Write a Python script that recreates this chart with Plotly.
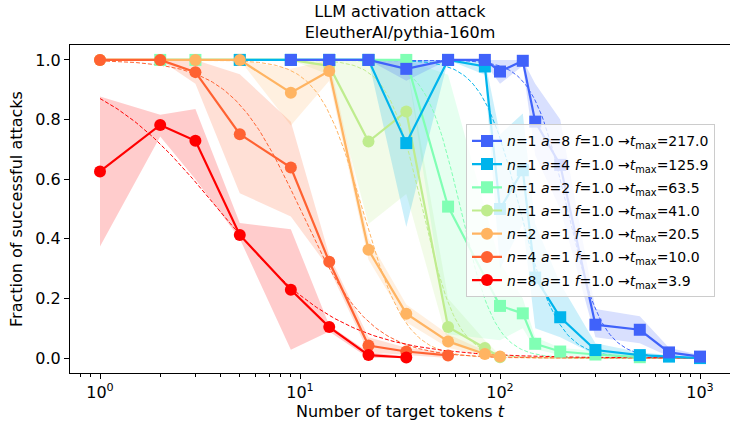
import numpy as np
import plotly.graph_objects as go

# ---------------- data ----------------
# n=1 a=8
T_A8 = [9, 14, 22, 34, 55, 84, 100, 130, 150, 200, 300, 500, 700, 1000]
Y_A8 = [1.0, 1.0, 1.0, 0.970, 1.0, 1.0, 0.961, 0.997, 0.793, 0.648, 0.112, 0.095, 0.019, 0.005]
LO_A8 = [1.0, 1.0, 1.0, 0.93, 1.0, 0.99, 0.92, 0.98, 0.68, 0.50, 0.07, 0.05, 0.005, 0.0]
HI_A8 = [1.0, 1.0, 1.0, 1.0, 1.0, 1.0, 1.0, 1.0, 0.92, 0.80, 0.165, 0.14, 0.035, 0.01]
# n=1 a=4
T_A4 = [5, 9, 14, 22, 34, 55, 84, 100, 130, 150, 200, 300, 500, 700, 1000]
Y_A4 = [1.0, 1.0, 1.0, 1.0, 0.721, 1.0, 0.978, 0.50, 0.63, 0.27, 0.137, 0.027, 0.01, 0.005, 0.0]
LO_A4 = [1.0, 1.0, 1.0, 1.0, 0.44, 1.0, 0.95, 0.30, 0.45, 0.10, 0.07, 0.01, 0.0, 0.0, 0.0]
HI_A4 = [1.0, 1.0, 1.0, 1.0, 1.0, 1.0, 1.0, 0.75, 0.82, 0.45, 0.25, 0.05, 0.02, 0.01, 0.0]
# n=1 a=2
T_A2 = [2, 3, 5, 9, 14, 22, 34, 55, 100, 130, 150, 200, 300, 500]
Y_A2 = [1.0, 1.0, 1.0, 1.0, 1.0, 1.0, 1.0, 0.508, 0.175, 0.15, 0.048, 0.022, 0.012, 0.003]
LO_A2 = [1.0, 1.0, 1.0, 1.0, 1.0, 1.0, 1.0, 0.08, 0.06, 0.10, 0.03, 0.01, 0.0, 0.0]
HI_A2 = [1.0, 1.0, 1.0, 1.0, 1.0, 1.0, 1.0, 0.95, 0.32, 0.20, 0.07, 0.035, 0.025, 0.01]
# n=1 a=1
T_A1 = [1, 2, 3, 5, 9, 14, 22, 34, 55, 84, 100]
Y_A1 = [1.0, 1.0, 1.0, 1.0, 1.0, 0.98, 0.726, 0.827, 0.104, 0.034, 0.003]
LO_A1 = [1.0, 1.0, 1.0, 1.0, 1.0, 0.95, 0.45, 0.55, 0.05, 0.01, 0.0]
HI_A1 = [1.0, 1.0, 1.0, 1.0, 1.0, 1.0, 1.0, 1.0, 0.20, 0.06, 0.01]
# n=2 a=1
T_N2 = [1, 2, 3, 5, 9, 14, 22, 34, 55, 84, 100]
Y_N2 = [1.0, 1.0, 1.0, 1.0, 0.890, 0.963, 0.363, 0.149, 0.056, 0.014, 0.005]
LO_N2 = [1.0, 1.0, 1.0, 1.0, 0.78, 0.93, 0.33, 0.12, 0.035, 0.005, 0.0]
HI_N2 = [1.0, 1.0, 1.0, 1.0, 0.97, 1.0, 0.40, 0.18, 0.08, 0.025, 0.01]
# n=4 a=1
T_N4 = [1, 2, 3, 5, 9, 14, 22, 34, 55]
Y_N4 = [1.0, 1.0, 0.959, 0.751, 0.639, 0.323, 0.042, 0.022, 0.009]
LO_N4 = [1.0, 1.0, 0.92, 0.553, 0.475, 0.30, 0.02, 0.01, 0.0]
HI_N4 = [1.0, 1.0, 1.0, 0.952, 0.793, 0.345, 0.07, 0.035, 0.02]
# n=8 a=1
T_N8 = [1, 2, 3, 5, 9, 14, 22, 34]
Y_N8 = [0.626, 0.782, 0.729, 0.413, 0.229, 0.104, 0.010, 0.002]
LO_N8 = [0.374, 0.743, 0.60, 0.40, 0.028, 0.089, 0.0, 0.0]
HI_N8 = [0.877, 0.816, 0.835, 0.453, 0.432, 0.11, 0.02, 0.005]

# legend parameters and fitted curve parameters (legend order)
N_VALS = [1, 1, 1, 1, 2, 4, 8]
A_VALS = [8, 4, 2, 1, 1, 1, 1]
F_VALS = [1.0, 1.0, 1.0, 1.0, 1.0, 1.0, 1.0]
T_MAX = [217.0, 125.9, 63.5, 41.0, 20.5, 10.0, 3.9]
FIT_K = [5.0, 4.5, 5.0, 5.0, 4.0, 2.5, 1.4]

X_TICKS = [1, 10, 100, 1000]
X_TICK_TEXT = ["10<sup>0</sup>", "10<sup>1</sup>", "10<sup>2</sup>", "10<sup>3</sup>"]
Y_TICKS = [0.0, 0.2, 0.4, 0.6, 0.8, 1.0]

# ---------------- styling ----------------
COLORS = ["#4062fa", "#00b4ec", "#80ffb4", "#bfec8e", "#ffb462", "#ff6232", "#ff0000"]
SYMBOLS = ["square", "square", "square", "circle", "circle", "circle", "circle"]
DATA = [(T_A8, Y_A8, LO_A8, HI_A8), (T_A4, Y_A4, LO_A4, HI_A4), (T_A2, Y_A2, LO_A2, HI_A2),
        (T_A1, Y_A1, LO_A1, HI_A1), (T_N2, Y_N2, LO_N2, HI_N2), (T_N4, Y_N4, LO_N4, HI_N4),
        (T_N8, Y_N8, LO_N8, HI_N8)]
# drawing order (bottom -> top)
DRAW_ORDER = [3, 2, 1, 0, 4, 5, 6]


def rgba(hexc, a):
    h = hexc.lstrip("#")
    return "rgba(%d,%d,%d,%.2f)" % (int(h[0:2], 16), int(h[2:4], 16), int(h[4:6], 16), a)


FONT = "DejaVu Sans"
fig = go.Figure()

# bands
for i in DRAW_ORDER:
    t, y, lo, hi = DATA[i]
    fig.add_trace(go.Scatter(
        x=list(t) + list(t)[::-1], y=list(hi) + list(lo)[::-1],
        fill="toself", fillcolor=rgba(COLORS[i], 0.2), line=dict(width=0),
        mode="lines", hoverinfo="skip", showlegend=False, legendgroup="g%d" % i))

# fitted dashed curves
t_fit = np.logspace(0, 3, 300)
for i in DRAW_ORDER:
    y_fit = 1.0 / (1.0 + (t_fit / T_MAX[i]) ** FIT_K[i])
    fig.add_trace(go.Scatter(
        x=t_fit, y=y_fit, mode="lines",
        line=dict(color=COLORS[i], width=1, dash="4px,2px"),
        hoverinfo="skip", showlegend=False, legendgroup="g%d" % i))

# main lines
for i in DRAW_ORDER:
    t, y, lo, hi = DATA[i]
    name = ("<i>n</i>=%d <i>a</i>=%d <i>f</i>=%.1f \u2192<i>t</i><sub>max</sub>=%.1f"
            % (N_VALS[i], A_VALS[i], F_VALS[i], T_MAX[i]))
    fig.add_trace(go.Scatter(
        x=t, y=y, mode="lines+markers", name=name,
        line=dict(color=COLORS[i], width=2.2),
        marker=dict(symbol=SYMBOLS[i], size=12, color=COLORS[i], line=dict(width=0)),
        legendgroup="g%d" % i, legendrank=i + 1))

fig.update_layout(
    width=730, height=424,
    margin=dict(l=70, r=0, t=45, b=51),
    plot_bgcolor="white", paper_bgcolor="white",
    font=dict(family=FONT, size=16, color="black"),
    title=dict(text="LLM activation attack<br>EleutherAI/pythia-160m",
               x=0.5, xref="paper", xanchor="center",
               y=0.96, yref="container", yanchor="top",
               font=dict(family=FONT, size=16, color="black")),
    showlegend=True,
    legend=dict(x=(466 - 70) / 660, y=(372.7 - 124) / 328, xanchor="left", yanchor="top",
                bgcolor="rgba(255,255,255,0.8)", bordercolor="#cccccc", borderwidth=1,
                font=dict(family=FONT, size=14, color="black"),
                tracegroupgap=2, itemwidth=30),
)
fig.update_xaxes(
    type="log", range=[-0.15, 3.15],
    tickvals=X_TICKS, ticktext=X_TICK_TEXT,
    ticks="outside", ticklen=5, tickwidth=1, tickcolor="black",
    minor=dict(ticks="outside", ticklen=2.5, tickwidth=0.8, tickcolor="black", dtick="D1", showgrid=False),
    showline=True, linecolor="black", linewidth=1, mirror=True,
    showgrid=False, zeroline=False,
    title=dict(text="Number of target tokens <i>t</i>", font=dict(family=FONT, size=16), standoff=4),
    tickfont=dict(family=FONT, size=16),
)
fig.update_yaxes(
    range=[-0.05, 1.05], tickvals=Y_TICKS, tickformat=".1f",
    ticks="outside", ticklen=5, tickwidth=1, tickcolor="black",
    showline=True, linecolor="black", linewidth=1, mirror=True,
    showgrid=False, zeroline=False,
    title=dict(text="Fraction of successful attacks", font=dict(family=FONT, size=16), standoff=8),
    tickfont=dict(family=FONT, size=16),
)

fig.write_html("out.html", config={"displayModeBar": False},
               post_script="document.body.style.margin='0';document.body.style.overflow='hidden';")
